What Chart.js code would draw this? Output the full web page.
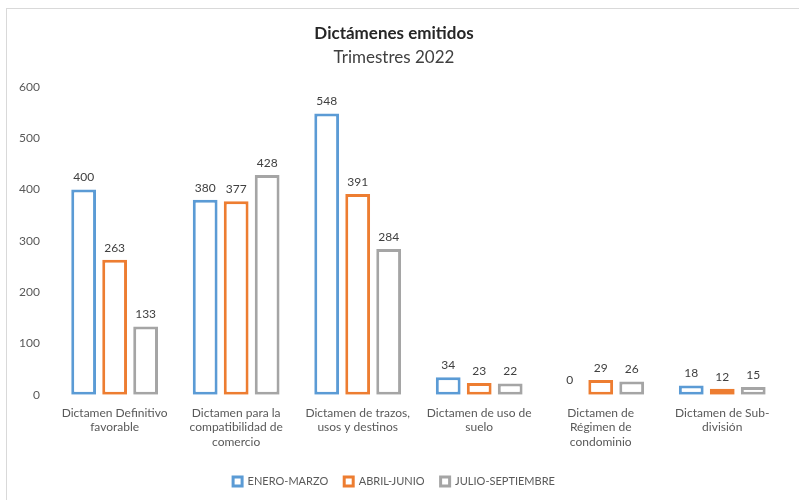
<!DOCTYPE html>
<html>
<head>
<meta charset="utf-8">
<script src="https://cdn.jsdelivr.net/npm/chart.js@4.4.0/dist/chart.umd.min.js"></script>
<style>
  html, body { margin: 0; padding: 0; background: #fff; }
  #frame {
    position: absolute; left: 6px; top: 8px;
    width: 800px; height: 500px;
    border: 1px solid #d9d9d9; box-sizing: border-box;
  }
  #wrap { position: absolute; left: 0; top: 0; width: 799px; height: 500px; }
</style>
</head>
<body>
<div id="frame"></div>
<div id="wrap"><canvas id="chart"></canvas></div>
<script>
// categories
const categories = [
  ["Dictamen Definitivo", "favorable"],
  ["Dictamen para la", "compatibilidad de", "comercio"],
  ["Dictamen de trazos,", "usos y destinos"],
  ["Dictamen de uso de", "suelo"],
  ["Dictamen de", "Régimen de", "condominio"],
  ["Dictamen de Sub-", "división"]
];

// series values
const eneroMarzo = [400, 380, 548, 34, 0, 18];
const abrilJunio = [263, 377, 391, 23, 29, 12];
const julioSeptiembre = [133, 428, 284, 22, 26, 15];

const seriesNames = ["ENERO-MARZO", "ABRIL-JUNIO", "JULIO-SEPTIEMBRE"];
const seriesColors = ["#5b9bd5", "#ed7d31", "#a5a5a5"];

// y ticks
const yMin = 0, yMax = 600, yStep = 100;

const FONT = "Lato, sans-serif";

// draws value labels above bars
const valueLabels = {
  id: "valueLabels",
  afterDatasetsDraw(chart) {
    const ctx = chart.ctx;
    ctx.save();
    ctx.font = "12px " + FONT;
    ctx.fillStyle = "#404040";
    ctx.textAlign = "center";
    ctx.textBaseline = "bottom";
    chart.data.datasets.forEach((ds, i) => {
      chart.getDatasetMeta(i).data.forEach((bar, j) => {
        const gap = ds.data[j] === 0 ? 9 : 6;
        ctx.fillText(ds.data[j], bar.x, bar.y - gap);
      });
    });
    ctx.restore();
  }
};

const datasets = [eneroMarzo, abrilJunio, julioSeptiembre].map((vals, i) => ({
  label: seriesNames[i],
  data: vals,
  backgroundColor: "#ffffff",
  borderColor: seriesColors[i],
  borderWidth: 3,
  borderSkipped: false,
  categoryPercentage: 0.765,
  barPercentage: 0.8
}));

new Chart(document.getElementById("chart"), {
  type: "bar",
  data: { labels: categories, datasets: datasets },
  plugins: [valueLabels],
  options: {
    responsive: true,
    maintainAspectRatio: false,
    animation: false,
    layout: { padding: { left: 5, right: 16, top: 18, bottom: 3 } },
    plugins: {
      title: {
        display: true,
        text: "Dictámenes emitidos",
        color: "#262626",
        font: { family: FONT, size: 17, weight: "bold" },
        padding: { top: 5, bottom: 4 }
      },
      subtitle: {
        display: true,
        text: "Trimestres 2022",
        color: "#404040",
        font: { family: FONT, size: 17 },
        padding: { bottom: 19 }
      },
      legend: {
        position: "bottom",
        labels: {
          color: "#595959",
          font: { family: FONT, size: 11 },
          boxWidth: 9,
          boxHeight: 9,
          padding: 16
        }
      },
      tooltip: { enabled: false }
    },
    scales: {
      x: {
        grid: { display: false, drawTicks: false },
        border: { display: false },
        ticks: {
          color: "#595959",
          font: { family: FONT, size: 12 },
          maxRotation: 0,
          autoSkip: false,
          padding: 11
        }
      },
      y: {
        min: yMin,
        max: yMax,
        grid: { display: false, drawTicks: false },
        border: { display: false },
        ticks: {
          stepSize: yStep,
          color: "#595959",
          font: { family: FONT, size: 12 },
          padding: 14
        }
      }
    }
  }
});
</script>
</body>
</html>
